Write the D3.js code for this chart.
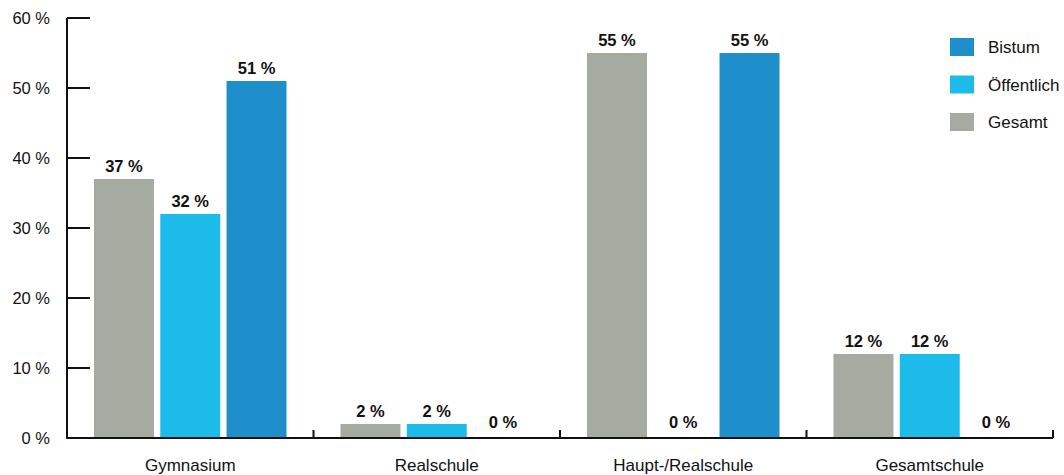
<!DOCTYPE html>
<html><head><meta charset="utf-8">
<script src="https://cdn.jsdelivr.net/npm/d3@7"></script>
<style>body{margin:0;background:#fff}svg{display:block}text{font-family:"Liberation Sans",Arial,Helvetica,sans-serif}</style>
</head><body><svg id="c" width="1064" height="475"></svg>
<script>
const categories = ["Gymnasium","Realschule","Haupt-/Realschule","Gesamtschule"];
const seriesNames = ["Gesamt","Öffentlich","Bistum"];
const gesamt = [37,2,55,12];
const oeffentlich = [32,2,0,12];
const bistum = [51,0,55,0];
const yTicks = [0,10,20,30,40,50,60];
const legendOrder = ["Bistum","Öffentlich","Gesamt"];
const colors = {"Gesamt":"#a5aba0","Öffentlich":"#1dbbea","Bistum":"#1e8fcb"};
const values = {"Gesamt":gesamt,"Öffentlich":oeffentlich,"Bistum":bistum};

const svg = d3.select("#c");
const x0 = 67, x1 = 1053, yBase = 438, yTop = 18;
const x = d3.scaleBand().domain(categories).range([x0,x1]).paddingInner(0).paddingOuter(0);
const y = d3.scaleLinear().domain([0,60]).range([yBase,yTop]);
const inner = d3.scaleBand().domain(seriesNames).range([27, x.bandwidth()-27]).paddingInner(0.095);

// bars
categories.forEach((c,i)=>{
  seriesNames.forEach(s=>{
    const v = values[s][i];
    const bx = x(c)+inner(s);
    if(v>0){
      svg.append("rect").attr("x",bx).attr("y",y(v)).attr("width",inner.bandwidth()).attr("height",yBase-y(v)).attr("fill",colors[s]);
    }
    svg.append("text").attr("x",bx+inner.bandwidth()/2).attr("y",y(v)-(v>0?7:10))
      .attr("text-anchor","middle").attr("font-size",16.5).attr("font-weight","bold").attr("fill","#111")
      .text(v+" %");
  });
});

// y axis
const ya = svg.append("g");
ya.append("path").attr("d",`M${x0},${yTop}V${yBase}H${x1}`).attr("fill","none").attr("stroke","#111").attr("stroke-width",2).attr("stroke-linejoin","round");
yTicks.forEach(t=>{
  ya.append("line").attr("x1",x0).attr("x2",x0+23).attr("y1",y(t)).attr("y2",y(t)).attr("stroke","#111").attr("stroke-width",2);
  ya.append("text").attr("x",50).attr("y",y(t)+6).attr("text-anchor","end").attr("font-size",16.5).attr("fill","#111").text(t+" %");
});
// x ticks
categories.forEach((c,i)=>{
  if(i>0) svg.append("line").attr("x1",x(c)).attr("x2",x(c)).attr("y1",yBase).attr("y2",yBase-8).attr("stroke","#111").attr("stroke-width",2);
  svg.append("text").attr("x",x(c)+x.bandwidth()/2).attr("y",471).attr("text-anchor","middle").attr("font-size",17).attr("fill","#111").text(c);
});
svg.append("line").attr("x1",x1).attr("x2",x1).attr("y1",yBase).attr("y2",yBase-8).attr("stroke","#111").attr("stroke-width",2);

// legend
legendOrder.forEach((s,i)=>{
  const ly = 38 + i*37.5;
  svg.append("rect").attr("x",950).attr("y",ly).attr("width",24).attr("height",18).attr("fill",colors[s]);
  svg.append("text").attr("x",988).attr("y",ly+15).attr("font-size",17).attr("fill","#111").text(s);
});
</script></body></html>
